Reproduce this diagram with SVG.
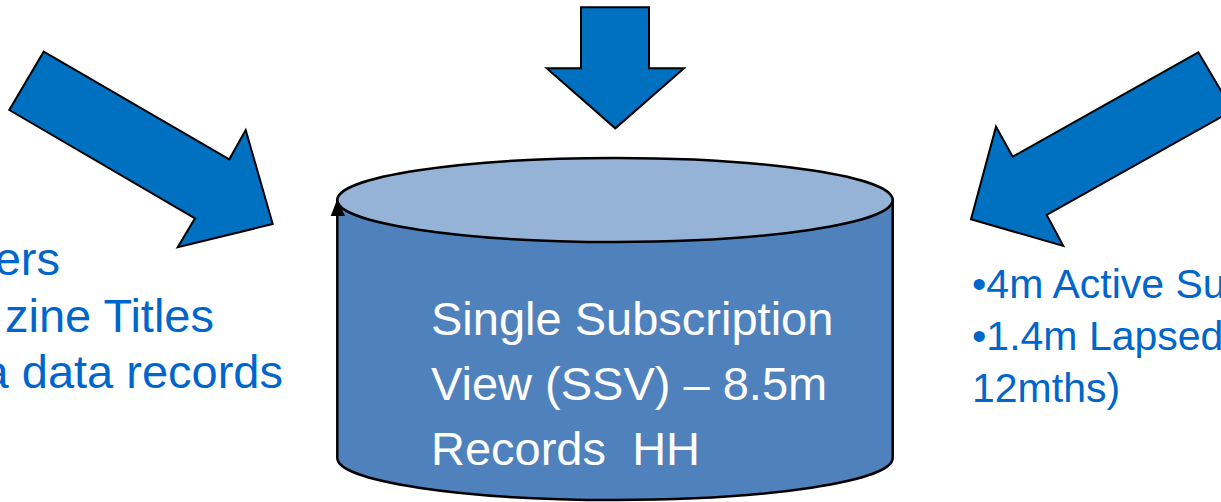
<svg xmlns="http://www.w3.org/2000/svg" width="1221" height="502" viewBox="0 0 1221 502">
  <style>
    .arrow { fill: #0070C0; stroke: #000; stroke-width: 2; stroke-linejoin: miter; }
    .body { fill: #4F81BD; stroke: #000; stroke-width: 2.5; }
    .lid { fill: #95B3D7; stroke: #000; stroke-width: 2.5; }
    .side { font-family: "Liberation Sans", Arial, sans-serif; fill: #0066CC; }
    .inner { font-family: "Liberation Sans", Arial, sans-serif; fill: #FFFFFF; font-size: 47px; white-space: pre; }
  </style>
  <rect width="1221" height="502" fill="#FFFFFF"/>

  <g id="connectors">
    <!-- feed arrow from the upper left -->
    <polygon id="arrow-left" class="arrow" points="43.7,51.7 229.3,159.3 245.7,130 272.7,224 177.7,247.3 195,218.3 9.3,110"/>
    <!-- feed arrow from above -->
    <polygon id="arrow-top" class="arrow" points="581,7.3 649,7.3 649,68.3 684,68.3 615.3,128.3 546.7,68.3 581,68.3"/>
    <!-- feed arrow from the upper right -->
    <polygon id="arrow-right" class="arrow" points="1198.3,52.3 1232.7,110.6 1046.7,215 1063.3,246 971,219.3 996,126.7 1012.7,156.7"/>
  </g>

  <g id="node-ssv">
    <path class="body" d="M337.3,200 V458 A277.7,42 0 0 0 892.7,458 V200 Z"/>
    <ellipse class="lid" cx="615" cy="200" rx="277.7" ry="42"/>
    <polygon points="337.3,199 345,216 330.7,216" fill="#000"/>
    <text class="inner" x="431" y="335">Single Subscription</text>
    <text class="inner" x="431" y="400">View (SSV) – 8.5m</text>
    <text class="inner" x="431" y="465">Records  HH</text>
  </g>

  <g id="node-left-text" class="side" font-size="47" text-anchor="end">
    <text x="60" y="275">ers</text>
    <text x="214" y="332">zine Titles</text>
    <text x="283" y="388">a data records</text>
  </g>

  <g id="node-right-text" class="side" font-size="41">
    <text x="972" y="298">•4m Active Sub</text>
    <text x="972" y="350">•1.4m Lapsed</text>
    <text x="972" y="402">12mths)</text>
  </g>
</svg>
